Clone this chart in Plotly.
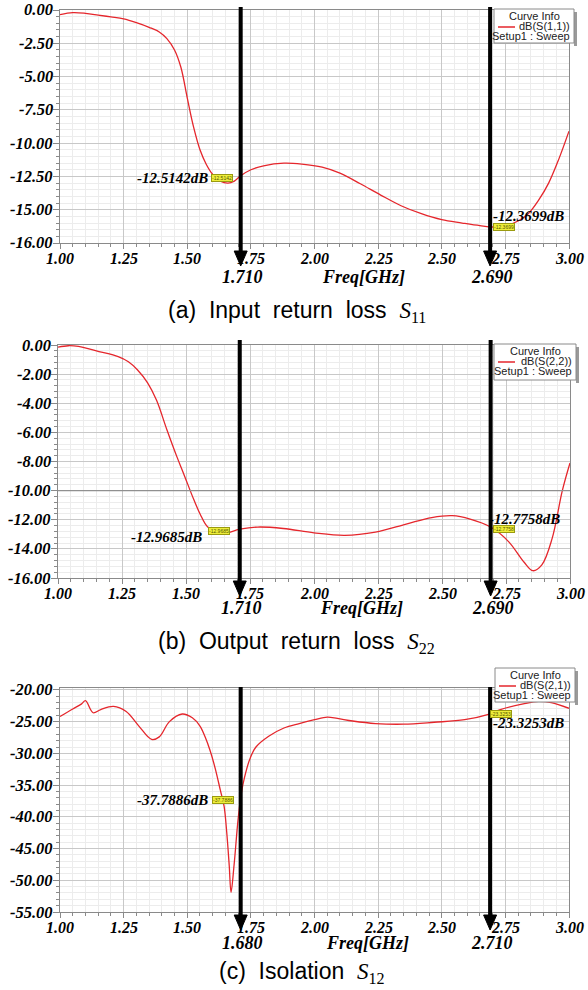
import plotly.graph_objects as go

W, H = 588, 990

# ---------------- data ----------------
s11_freq = [1.00, 1.05, 1.10, 1.15, 1.20, 1.25, 1.30, 1.35, 1.39, 1.42, 1.45, 1.475, 1.50, 1.525,
            1.55, 1.575, 1.60, 1.63, 1.66, 1.685, 1.71, 1.75, 1.80, 1.88, 1.95, 2.03, 2.10, 2.18,
            2.26, 2.34, 2.42, 2.50, 2.58, 2.65, 2.70, 2.75, 2.80, 2.84, 2.88, 2.92, 2.96, 3.00]
s11_db = [-0.35, -0.2, -0.25, -0.38, -0.52, -0.67, -0.95, -1.3, -1.65, -2.15, -3.0, -4.3, -6.6, -8.8,
          -10.5, -11.6, -12.35, -12.85, -13.0, -12.85, -12.45, -12.0, -11.7, -11.5, -11.57, -11.8, -12.25, -13.05,
          -13.9, -14.7, -15.3, -15.75, -16.0, -16.2, -16.3, -16.2, -15.85, -15.3, -14.3, -13.0, -11.2, -9.1]

s22_freq = [1.00, 1.04, 1.08, 1.16, 1.235, 1.275, 1.31, 1.35, 1.385, 1.425, 1.465, 1.49, 1.53, 1.555,
            1.585, 1.64, 1.71, 1.78, 1.88, 2.00, 2.12, 2.24, 2.36, 2.46, 2.54, 2.61, 2.69, 2.76,
            2.82, 2.855, 2.89, 2.93, 2.97, 3.00]
s22_db = [-0.15, -0.05, -0.1, -0.45, -0.8, -1.15, -1.7, -2.6, -3.8, -5.8, -7.7, -8.8, -10.6, -11.6,
          -12.5, -12.95, -12.65, -12.5, -12.6, -12.9, -13.07, -12.85, -12.3, -11.85, -11.72, -11.95, -12.5, -13.5,
          -14.9, -15.5, -15.1, -13.3, -10.0, -8.1]

s21_freq = [1.00, 1.05, 1.085, 1.10, 1.13, 1.16, 1.21, 1.26, 1.31, 1.36, 1.39, 1.43, 1.48, 1.52,
            1.55, 1.57, 1.59, 1.61, 1.63, 1.645, 1.655, 1.665, 1.672, 1.684, 1.70, 1.713, 1.725, 1.745,
            1.77, 1.82, 1.88, 1.94, 2.00, 2.05, 2.09, 2.15, 2.24, 2.35, 2.47, 2.59, 2.68, 2.73,
            2.82, 2.88, 2.93, 3.00]
s21_db = [-24.2, -23.0, -22.2, -21.7, -23.6, -23.1, -22.6, -23.4, -25.7, -27.8, -27.4, -25.0, -23.8, -24.4,
          -25.7, -27.4, -29.6, -32.4, -35.8, -38.4, -42.4, -47.7, -51.9, -47.6, -40.3, -36.2, -33.8, -31.0,
          -29.0, -27.3, -26.0, -25.3, -24.7, -24.3, -24.5, -24.9, -25.3, -25.4, -25.1, -24.7, -23.9, -23.1,
          -22.2, -21.8, -22.0, -22.9]

x_ticks = [1.00, 1.25, 1.50, 1.75, 2.00, 2.25, 2.50, 2.75, 3.00]
x_tick_text = ["1.00", "1.25", "1.50", "1.75", "2.00", "2.25", "2.50", "2.75", "3.00"]

s11_yticks = [0, -2.5, -5, -7.5, -10, -12.5, -15, -17.5]
s11_ytext = ["0.00", "-2.50", "-5.00", "-7.50", "-10.00", "-12.50", "-15.00", "-16.00"]
s22_yticks = [0, -2, -4, -6, -8, -10, -12, -14, -16]
s22_ytext = ["0.00", "-2.00", "-4.00", "-6.00", "-8.00", "-10.00", "-12.00", "-14.00", "-16.00"]
s21_yticks = [-20, -25, -30, -35, -40, -45, -50, -55]
s21_ytext = ["-20.00", "-25.00", "-30.00", "-35.00", "-40.00", "-45.00", "-50.00", "-55.00"]

curve_names = ["dB(S(1,1))", "dB(S(2,2))", "dB(S(2,1))"]
marker_pos = [[1.71, 2.69], [1.71, 2.69], [1.71, 2.69]]
marker_text = [["1.710", "2.690"], ["1.710", "2.690"], ["1.680", "2.710"]]
value_text = [["-12.5142dB", "-12.3699dB"], ["-12.9685dB", "-12.7758dB"], ["-37.7886dB", "-23.3253dB"]]
captions = [("(a)", "Input\u00a0 return\u00a0 loss", "11"),
            ("(b)", "Output\u00a0 return\u00a0 loss", "22"),
            ("(c)", "Isolation", "12")]

# ---------------- layout geometry (pixels of the 588x990 page) ----------------
panels = [
    dict(x0=60, x1=569, y0=10, y1=243, yr=[-17.5, 0], ticks=s11_yticks, ttext=s11_ytext, ydt=0.5, ytk0=0,
         arr_top=7, arr_tip=266, mk_y=277, freq_x=363, cap_x=297, cap_y=311,
         leg=(494, 574, 9, 43),
         val=[(1.59, -12.6, "right", 1.593, -12.6, "left", "-12.5142"),
              (2.99, -15.45, "right", 2.70, -16.3, "left", "-12.3699")]),
    dict(x0=58, x1=570, y0=345, y1=578, yr=[-16, 0], ticks=s22_yticks, ttext=s22_ytext, ydt=0.4, ytk0=0,
         arr_top=340, arr_tip=596, mk_y=608, freq_x=361, cap_x=296, cap_y=642,
         leg=(494, 576, 344, 380),
         val=[(1.57, -13.19, "right", 1.586, -12.77, "left", "-12.9685"),
              (2.97, -11.95, "right", 2.70, -12.64, "left", "-12.7758")]),
    dict(x0=60, x1=569, y0=688, y1=912, yr=[-55, -19.7], ticks=s21_yticks, ttext=s21_ytext, ydt=1, ytk0=-20,
         arr_top=687, arr_tip=930, mk_y=943, freq_x=367, cap_x=302, cap_y=972,
         leg=(495, 575, 668, 702),
         val=[(1.588, -37.3, "right", 1.596, -37.3, "left", "-37.7886"),
              (2.99, -25.2, "right", 2.69, -23.75, "left", "-23.3253")]),
]
series = [(s11_freq, s11_db), (s22_freq, s22_db), (s21_freq, s21_db)]


def px(x):
    return x / W


def py(y):
    return 1 - y / H


SERIF = "Liberation Serif"
SANS = "Liberation Sans"
RED = "#e5262c"
GRID = "#c8c8c8"
MINOR = "#ececec"
AXC = "#8a8a8a"
BI = dict(family=SERIF, weight="bold", style="italic", color="black")

fig = go.Figure()
shapes = []
annots = []

for i, (p, (fx, fy)) in enumerate(zip(panels, series)):
    n = "" if i == 0 else str(i + 1)
    xa, ya = "x" + n, "y" + n
    xd, yd = xa + " domain", ya + " domain"
    fig.add_trace(go.Scatter(x=fx, y=fy, mode="lines", xaxis=xa, yaxis=ya,
                             line=dict(color=RED, width=1.3, shape="spline", smoothing=1.0),
                             showlegend=False, hoverinfo="skip"))
    common = dict(showline=True, linecolor=AXC, linewidth=1, mirror=True, zeroline=False,
                  showgrid=True, gridcolor=GRID, gridwidth=1, ticks="outside", tickcolor=AXC,
                  fixedrange=True, automargin=False, showticklabels=False)
    fig.update_layout(**{
        "xaxis" + n: dict(common, domain=[px(p["x0"]), px(p["x1"])], anchor=ya, range=[1, 3],
                          tickmode="array", tickvals=x_ticks, ticklen=5,
                          minor=dict(tick0=1, dtick=0.05, showgrid=True, gridcolor=MINOR, ticks="outside",
                                     ticklen=3, tickcolor=AXC)),
        "yaxis" + n: dict(common, domain=[py(p["y1"]), py(p["y0"])], anchor=xa, range=p["yr"],
                          tickmode="array", tickvals=p["ticks"], ticklen=6,
                          minor=dict(tick0=p["ytk0"], dtick=p["ydt"], showgrid=True, gridcolor=MINOR,
                                     ticks="outside", ticklen=3, tickcolor=AXC)),
    })
    # tick labels placed through the axis scales
    for v, t in zip(x_ticks, x_tick_text):
        annots.append(dict(text=t, xref=xa, yref=yd, x=v, y=0, yshift=-5, showarrow=False,
                           xanchor="center", yanchor="top", font=dict(BI, size=16)))
    for v, t in zip(p["ticks"], p["ttext"]):
        annots.append(dict(text=t, xref=xd, yref=ya, x=0, y=v, xshift=-5, showarrow=False,
                           xanchor="right", yanchor="middle", font=dict(BI, size=16.5)))

    pw, ph = p["x1"] - p["x0"], p["y1"] - p["y0"]

    if i == 1:
        shapes.append(dict(type="line", xref=xd, yref=ya, x0=0, x1=1, y0=-10, y1=-10,
                           line=dict(color="#909090", width=1.3), layer="above"))

    # marker arrows
    for mf, mt in zip(marker_pos[i], marker_text[i]):
        fx_dom = (mf - 1) / (3 - 1)
        top = (p["y1"] - p["arr_top"]) / ph
        tip = (p["y1"] - p["arr_tip"]) / ph
        head = 15 / ph
        hw = 6.5 / pw
        shapes.append(dict(type="line", xref=xd, yref=yd, x0=fx_dom, x1=fx_dom, y0=top, y1=tip + head * 0.8,
                           line=dict(color="black", width=4)))
        shapes.append(dict(type="path", xref=xd, yref=yd,
                           path=f"M {fx_dom - hw},{tip + head} L {fx_dom + hw},{tip + head} L {fx_dom},{tip} Z",
                           fillcolor="black", line=dict(color="black", width=1)))
        annots.append(dict(text=mt, xref=xa, yref="paper", x=mf, y=py(p["mk_y"]), showarrow=False,
                           xanchor="center", yanchor="middle", xshift=2, font=dict(BI, size=18)))
    annots.append(dict(text="Freq[GHz]", xref="paper", yref="paper", x=px(p["freq_x"]), y=py(p["mk_y"]),
                       showarrow=False, xanchor="center", yanchor="middle", font=dict(BI, size=18)))

    # marker value labels and yellow tags
    for (tx, ty, tanc, bx, by, banc, small), vt in zip(p["val"], value_text[i]):
        annots.append(dict(text=vt, xref=xa, yref=ya, x=tx, y=ty, showarrow=False, xanchor=tanc,
                           yanchor="middle", font=dict(BI, size=15)))
        annots.append(dict(text=small, xref=xa, yref=ya, x=bx, y=by, showarrow=False, xanchor=banc,
                           yanchor="middle", bgcolor="#eeee3a", bordercolor="#9a9a10", borderwidth=1,
                           borderpad=0, font=dict(family=SANS, size=5, color="#555500",
                                                  weight="normal", style="normal")))

    # Curve Info box
    lx0, lx1, ly0, ly1 = p["leg"]
    lf = dict(family=SANS, size=11, color="#222", weight="normal", style="normal")
    shapes.append(dict(type="rect", xref="paper", yref="paper", x0=px(lx1), x1=px(lx1 + 3),
                       y0=py(ly1 + 3), y1=py(ly0 + 3), fillcolor="#9a9a9a", line=dict(width=0)))
    shapes.append(dict(type="rect", xref="paper", yref="paper", x0=px(lx0), x1=px(lx1),
                       y0=py(ly1), y1=py(ly0), fillcolor="white", line=dict(color="#8a8a8a", width=1)))
    shapes.append(dict(type="line", xref="paper", yref="paper", x0=px(lx0 + 4), x1=px(lx0 + 21),
                       y0=py(ly0 + 18), y1=py(ly0 + 18), line=dict(color=RED, width=1.5)))
    annots.append(dict(text="Curve Info", xref="paper", yref="paper", x=px((lx0 + lx1) / 2), y=py(ly0 + 6.5),
                       showarrow=False, xanchor="center", yanchor="middle", font=lf))
    annots.append(dict(text=curve_names[i], xref="paper", yref="paper", x=px(lx1 - 2), y=py(ly0 + 17),
                       showarrow=False, xanchor="right", yanchor="middle", font=lf))
    annots.append(dict(text="Setup1 : Sweep", xref="paper", yref="paper", x=px(lx1 - 2), y=py(ly0 + 27),
                       showarrow=False, xanchor="right", yanchor="middle", font=lf))

    # caption
    lab, words, sub = captions[i]
    cap = (f"{lab}\u00a0 {words}\u00a0 "
           f"<span style=\"font-family:Liberation Serif;font-style:italic\">S</span>"
           f"<span style=\"font-family:Liberation Serif\"><sub>{sub}</sub></span>")
    annots.append(dict(text=cap, xref="paper", yref="paper", x=px(p["cap_x"]), y=py(p["cap_y"]),
                       showarrow=False, xanchor="center", yanchor="middle",
                       font=dict(family=SANS, size=23, color="black", weight="normal", style="normal")))

fig.update_layout(width=W, height=H, margin=dict(l=0, r=0, t=0, b=0, autoexpand=False),
                  font=dict(family=SANS, size=12, color="black"),
                  paper_bgcolor="white", plot_bgcolor="white", showlegend=False,
                  shapes=shapes, annotations=annots)

fig.write_html("out.html", config={"displayModeBar": False, "staticPlot": True},
               post_script="document.body.style.margin='0';document.body.style.overflow='hidden';")
